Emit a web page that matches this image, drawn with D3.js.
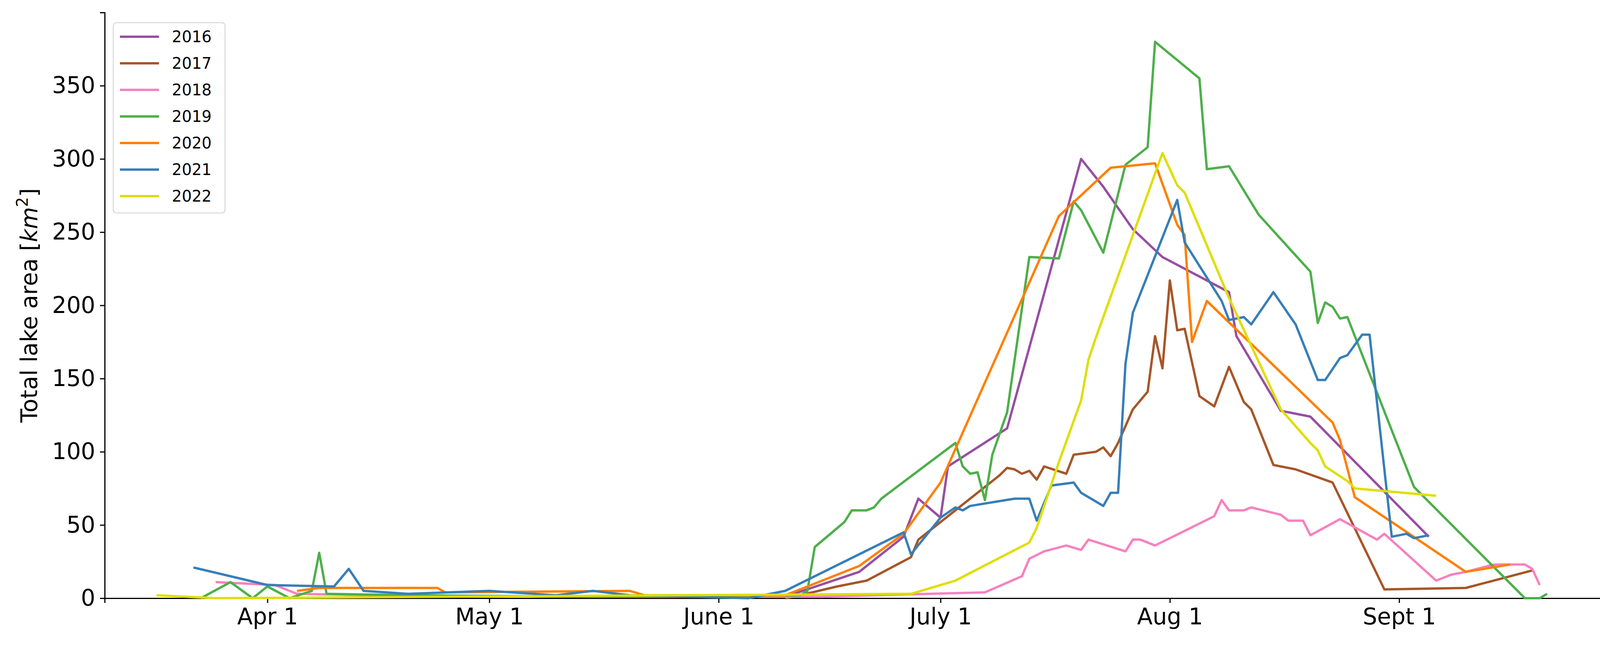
<!DOCTYPE html>
<html>
<head>
<meta charset="utf-8">
<script src="https://cdn.jsdelivr.net/npm/d3@7"></script>
<style>
  body { margin: 0; background: #fff; }
  text { font-family: "DejaVu Sans", sans-serif; }
</style>
</head>
<body>
<svg id="chart"></svg>
<script>
// [month-day, total lake area km2]
const y2016 = [["06-10",1],["06-20",18],["06-26",42],["06-28",68],["07-01",55],["07-02",90],["07-10",116],["07-20",300],["07-23",281],["07-27",252],["07-31",233],["08-09",209],["08-10",179],["08-16",128],["08-20",124],["09-05",42]];
const y2017 = [["06-10",0],["06-12",2],["06-17",8],["06-21",12],["06-27",28],["06-28",40],["07-09",84],["07-10",89],["07-11",88],["07-12",85],["07-13",87],["07-14",81],["07-15",90],["07-18",85],["07-19",98],["07-22",100],["07-23",103],["07-24",97],["07-25",106],["07-27",129],["07-29",141],["07-30",179],["07-31",157],["08-01",217],["08-02",183],["08-03",184],["08-05",138],["08-07",131],["08-09",158],["08-11",134],["08-12",129],["08-15",91],["08-18",88],["08-23",79],["08-30",6],["09-10",7],["09-19",19]];
const y2018 = [["03-25",11],["04-02",9],["04-05",3],["04-15",2],["05-15",1],["06-15",1],["07-07",4],["07-12",15],["07-13",27],["07-15",32],["07-18",36],["07-20",33],["07-21",40],["07-26",32],["07-27",40],["07-28",40],["07-30",36],["08-07",56],["08-08",67],["08-09",60],["08-11",60],["08-12",62],["08-16",57],["08-17",53],["08-19",53],["08-20",43],["08-24",54],["08-29",40],["08-30",44],["09-06",12],["09-08",16],["09-10",18],["09-13",22],["09-14",23],["09-18",23],["09-19",20],["09-20",9]];
const y2019 = [["03-23",0],["03-27",11],["03-30",0],["04-01",8],["04-04",0],["04-07",5],["04-08",31],["04-09",3],["04-20",2],["05-15",1],["06-12",2],["06-13",5],["06-14",35],["06-18",52],["06-19",60],["06-21",60],["06-22",62],["06-23",68],["07-03",106],["07-04",90],["07-05",85],["07-06",86],["07-07",67],["07-08",98],["07-10",127],["07-13",233],["07-17",232],["07-19",271],["07-20",265],["07-23",236],["07-26",296],["07-29",308],["07-30",380],["08-05",355],["08-06",293],["08-09",295],["08-13",262],["08-20",223],["08-21",188],["08-22",202],["08-23",199],["08-24",191],["08-25",192],["09-03",76],["09-18",0],["09-20",0],["09-21",3]];
const y2020 = [["04-05",5],["04-08",7],["04-24",7],["04-25",4],["05-20",5],["05-22",2],["06-10",2],["06-20",22],["06-26",44],["07-01",79],["07-17",261],["07-24",294],["07-30",297],["08-02",255],["08-03",248],["08-04",175],["08-06",203],["08-23",120],["08-24",108],["08-26",69],["09-10",18],["09-16",23]];
const y2021 = [["03-22",21],["04-01",9],["04-10",8],["04-12",20],["04-14",5],["04-20",3],["05-01",5],["05-10",2],["05-15",5],["05-20",2],["06-05",0],["06-10",5],["06-26",45],["06-27",30],["07-01",55],["07-03",62],["07-04",60],["07-05",63],["07-11",68],["07-13",68],["07-14",53],["07-16",77],["07-19",79],["07-20",72],["07-23",63],["07-24",72],["07-25",72],["07-26",160],["07-27",195],["08-02",272],["08-03",243],["08-08",203],["08-09",190],["08-11",192],["08-12",187],["08-15",209],["08-18",187],["08-21",149],["08-22",149],["08-24",164],["08-25",166],["08-27",180],["08-28",180],["08-31",42],["09-02",44],["09-03",41],["09-05",43]];
const y2022 = [["03-17",2],["03-25",0],["06-27",3],["07-03",12],["07-13",38],["07-14",48],["07-17",93],["07-20",135],["07-21",163],["07-22",178],["07-31",304],["08-02",282],["08-03",277],["08-09",205],["08-16",129],["08-20",106],["08-21",101],["08-22",90],["08-25",80],["08-26",75],["09-06",70]];

const years = ["2016","2017","2018","2019","2020","2021","2022"];
const colors = ["#984ea3","#a65628","#f781bf","#4daf4a","#ff7f00","#377eb8","#dede00"];
const seriesData = [y2016, y2017, y2018, y2019, y2020, y2021, y2022];

const xTickDates = ["04-01","05-01","06-01","07-01","08-01","09-01"];
const xTickLabels = ["Apr 1","May 1","June 1","July 1","Aug 1","Sept 1"];
const yTicks = [0, 50, 100, 150, 200, 250, 300, 350];

const W = 4180, H = 1661;
const margin = {left: 268, right: 49, top: 32, bottom: 130};
const parse = s => d3.timeParse("%Y-%m-%d")("2021-" + s);

const svg = d3.select("#chart").attr("width", W).attr("height", H);

const x = d3.scaleTime()
    .domain([parse("03-10"), parse("09-30")])
    .range([margin.left, W - margin.right]);
const y = d3.scaleLinear()
    .domain([0, 400])
    .range([H - margin.bottom, margin.top]);

// axes: only left and bottom spines
const xAxis = svg.append("g")
    .attr("transform", `translate(0,${H - margin.bottom})`)
    .call(d3.axisBottom(x)
        .tickValues(xTickDates.map(parse))
        .tickFormat((d, i) => xTickLabels[i])
        .tickSizeOuter(0).tickSize(12).tickPadding(14));
const yAxis = svg.append("g")
    .attr("transform", `translate(${margin.left},0)`)
    .call(d3.axisLeft(y).tickValues(yTicks).tickSizeOuter(0).tickSize(12).tickPadding(12));
[xAxis, yAxis].forEach(g => {
    g.selectAll("path, line").attr("stroke", "#000").attr("stroke-width", 3);
    g.selectAll("text").attr("font-size", 58).attr("fill", "#000");
});

svg.append("text")
    .attr("transform", `translate(95,${(margin.top + H - margin.bottom) / 2}) rotate(-90)`)
    .attr("text-anchor", "middle")
    .attr("font-size", 58)
    .html('Total lake area [<tspan font-style="italic">km</tspan><tspan font-size="40" dy="-24">2</tspan><tspan dy="24">]</tspan>');

const line = d3.line()
    .x(d => x(parse(d[0])))
    .y(d => y(d[1]));

svg.append("g").selectAll("path")
    .data(seriesData)
    .join("path")
    .attr("d", line)
    .attr("fill", "none")
    .attr("stroke", (d, i) => colors[i])
    .attr("stroke-width", 6)
    .attr("stroke-linejoin", "round");

// legend
const leg = svg.append("g").attr("transform", "translate(290,58)");
leg.append("rect")
    .attr("width", 286).attr("height", 487).attr("rx", 8)
    .attr("fill", "#fff").attr("stroke", "#ddd").attr("stroke-width", 3);
years.forEach((yr, i) => {
    const gy = 36 + i * 68;
    leg.append("line")
        .attr("x1", 17).attr("x2", 117).attr("y1", gy).attr("y2", gy)
        .attr("stroke", colors[i]).attr("stroke-width", 6);
    leg.append("text")
        .attr("x", 150).attr("y", gy).attr("dy", "0.35em")
        .attr("font-size", 40).text(yr);
});
</script>
</body>
</html>
